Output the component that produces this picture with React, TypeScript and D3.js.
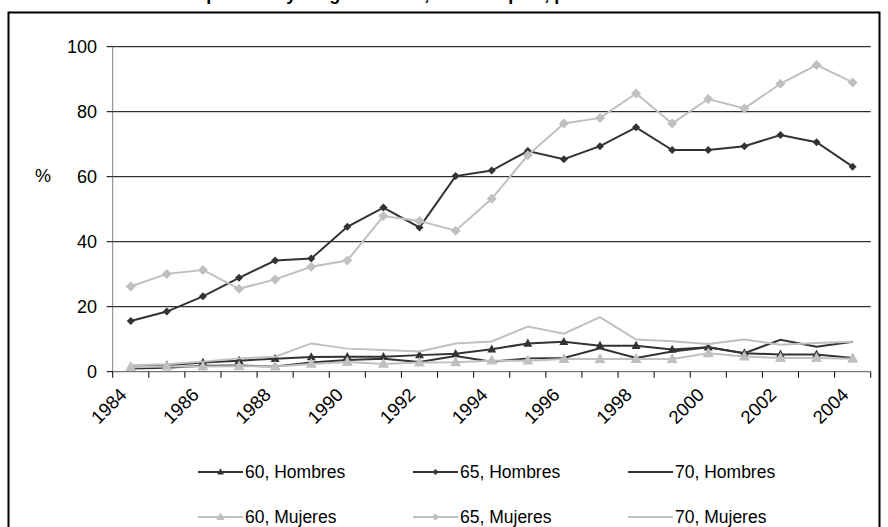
import React from "react";
import * as d3 from "d3";

const years = [
  "1984","1985","1986","1987","1988","1989","1990","1991","1992","1993","1994",
  "1995","1996","1997","1998","1999","2000","2001","2002","2003","2004",
];
const yTicks = [0, 20, 40, 60, 80, 100];

const h60 = [1.5, 2.0, 2.8, 3.4, 4.0, 4.5, 4.6, 4.6, 5.1, 5.5, 6.9, 8.7, 9.2, 8.0, 8.0, 6.8, 7.5, 5.7, 5.3, 5.3, 4.2];
const h65 = [15.6, 18.5, 23.2, 28.9, 34.2, 34.8, 44.6, 50.5, 44.4, 60.2, 61.9, 67.9, 65.4, 69.4, 75.2, 68.2, 68.2, 69.4, 72.8, 70.6, 63.1];
const h70 = [1.0, 1.2, 1.8, 1.9, 1.6, 2.8, 3.6, 4.0, 3.0, 4.8, 3.1, 4.1, 4.2, 7.2, 4.2, 6.2, 7.5, 5.7, 9.8, 7.7, 9.2];
const m60 = [1.4, 1.6, 1.6, 1.7, 1.6, 2.4, 3.0, 2.4, 2.8, 2.9, 3.4, 3.4, 3.9, 3.9, 3.9, 3.9, 5.7, 4.7, 4.2, 4.2, 4.0];
const m65 = [26.2, 30.1, 31.3, 25.5, 28.4, 32.3, 34.2, 47.9, 46.4, 43.4, 53.2, 66.6, 76.4, 78.1, 85.6, 76.4, 83.9, 81.0, 88.6, 94.4, 89.0];
const m70 = [2.0, 2.3, 3.1, 4.1, 4.6, 8.7, 7.1, 6.7, 6.2, 8.7, 9.3, 13.9, 11.7, 16.8, 9.9, 9.4, 8.5, 9.9, 8.3, 8.8, 9.2];

const DARK = "#333333";
const GREY = "#c0c0c0";

type Series = { name: string; values: number[]; color: string; marker: "tri" | "dia" | "none"; size: number };

const series: Series[] = [
  { name: "60, Hombres", values: h60, color: DARK, marker: "tri", size: 9 },
  { name: "65, Hombres", values: h65, color: DARK, marker: "dia", size: 8 },
  { name: "70, Hombres", values: h70, color: DARK, marker: "none", size: 0 },
  { name: "60, Mujeres", values: m60, color: GREY, marker: "tri", size: 11 },
  { name: "65, Mujeres", values: m65, color: GREY, marker: "dia", size: 10 },
  { name: "70, Mujeres", values: m70, color: GREY, marker: "none", size: 0 },
];

const FONT = "Arial, 'Liberation Sans', sans-serif";

function markerPath(kind: string, size: number): string | null {
  if (kind === "tri") {
    const h = size * 0.9;
    return `M0,${-h * 0.6}L${size / 2},${h * 0.4}L${-size / 2},${h * 0.4}Z`;
  }
  if (kind === "dia") {
    const r = size / 2;
    return `M0,${-r}L${r},0L0,${r}L${-r},0Z`;
  }
  return null;
}

export default function App() {
  const W = 888;
  const H = 527;
  const x = d3.scaleBand<string>().domain(years).range([112.7, 870.7]).padding(0);
  const y = d3.scaleLinear().domain([0, 100]).range([371.7, 46.7]);
  const bw = x.bandwidth();
  const cx = (yr: string) => (x(yr) as number) + bw / 2;
  const line = d3
    .line<number>()
    .x((_, i) => cx(years[i]))
    .y((d) => y(d));

  const x0 = x.range()[0];
  const x1 = x.range()[1];
  const tickXs = d3.range(years.length + 1).map((i) => x0 + i * bw);

  const legendCols = [198, 413, 628];
  const legendRows = [472, 517];

  return (
    <svg
      width={W}
      height={H}
      style={{ position: "absolute", left: 0, top: 0, background: "#fff" }}
      fontFamily={FONT}
    >
      <rect x={0} y={0} width={W} height={H} fill="#fff" />
      <text x={398} y={-0.5} textAnchor="middle" fontSize={18} fontWeight="bold" fill="#000">
        Tasa de retiro por sexo y rango de edad, total del país, período 1984-2004
      </text>
      <rect x={8.5} y={12.5} width={871} height={520} fill="none" stroke="#000" strokeWidth={2} />

      {/* gridlines */}
      {yTicks.map((t) =>
        t === 0 ? null : (
          <line key={"g" + t} x1={x0} x2={x1} y1={y(t)} y2={y(t)} stroke="#000" strokeWidth={1} />
        )
      )}
      {/* y axis */}
      <line x1={x0} x2={x0} y1={y(100)} y2={y(0)} stroke="#808080" strokeWidth={1} />
      {yTicks.map((t) => (
        <g key={"yt" + t}>
          <line x1={x0 - 6} x2={x0} y1={y(t)} y2={y(t)} stroke="#000" strokeWidth={1} />
          <text x={97} y={y(t)} dy="0.35em" textAnchor="end" fontSize={18} fill="#000">
            {t}
          </text>
        </g>
      ))}
      <text x={43} y={176} dy="0.35em" textAnchor="middle" fontSize={18} fill="#000">
        %
      </text>

      {/* x axis */}
      <line x1={x0} x2={x1} y1={y(0)} y2={y(0)} stroke="#555" strokeWidth={1} />
      {tickXs.map((tx, i) => (
        <line key={"xt" + i} x1={tx} x2={tx} y1={y(0)} y2={y(0) + 6} stroke="#000" strokeWidth={1} />
      ))}
      {years.map((yr, i) =>
        i % 2 === 0 ? (
          <text
            key={"xl" + yr}
            transform={`translate(${cx(yr) - 3},${396}) rotate(-45)`}
            textAnchor="end"
            fontSize={18.5}
            fill="#000"
          >
            {yr}
          </text>
        ) : null
      )}

      {/* series */}
      {series.map((s) => {
        const mp = markerPath(s.marker, s.size);
        return (
          <g key={s.name}>
            <path d={line(s.values) || ""} fill="none" stroke={s.color} strokeWidth={2} />
            {mp &&
              s.values.map((v, i) => (
                <path key={i} d={mp} transform={`translate(${cx(years[i])},${y(v)})`} fill={s.color} />
              ))}
          </g>
        );
      })}

      {/* legend */}
      {series.map((s, i) => {
        const col = i % 3;
        const row = Math.floor(i / 3);
        const lx = legendCols[col];
        const ly = legendRows[row];
        const mp = markerPath(s.marker, s.size * 0.75);
        return (
          <g key={"lg" + s.name}>
            <line x1={lx} x2={lx + 45} y1={ly} y2={ly} stroke={s.color} strokeWidth={2} />
            {mp && <path d={mp} transform={`translate(${lx + 22.5},${ly})`} fill={s.color} />}
            <text x={lx + 47} y={ly} dy="0.35em" fontSize={17.5} fill="#000">
              {s.name}
            </text>
          </g>
        );
      })}
    </svg>
  );
}
